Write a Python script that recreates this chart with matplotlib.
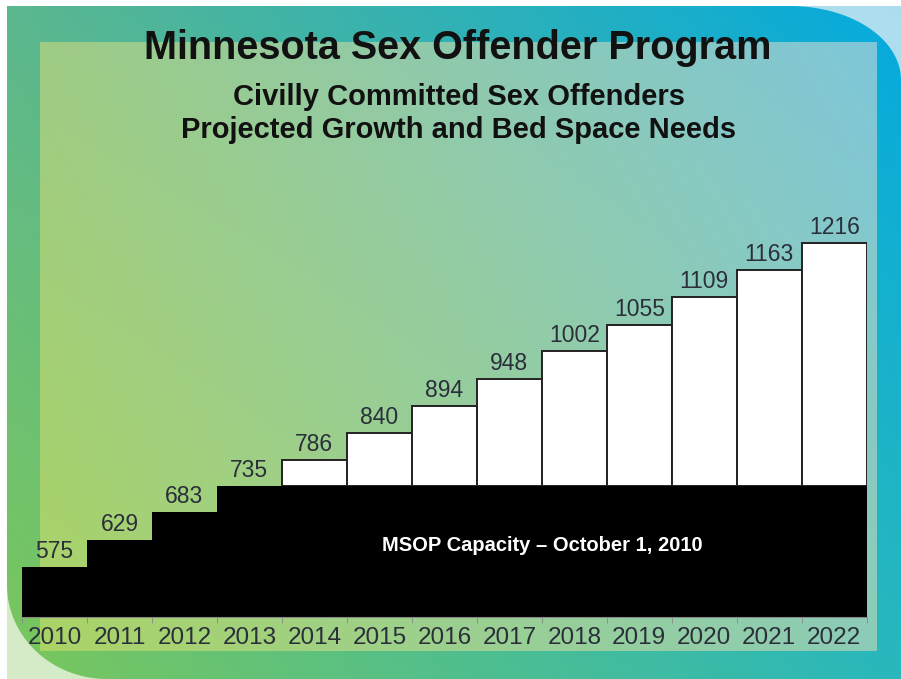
import matplotlib.pyplot as plt
import numpy as np
from matplotlib.patches import Polygon

plt.rcParams['font.family'] = ['Liberation Sans', 'DejaVu Sans']

years = ['2010', '2011', '2012', '2013', '2014', '2015', '2016',
         '2017', '2018', '2019', '2020', '2021', '2022']
beds = [575, 629, 683, 735, 786, 840, 894, 948, 1002, 1055, 1109, 1163, 1216]
capacity = 735
capacity_label = 'MSOP Capacity \u2013 October 1, 2010'

W, H = 901, 679


def gradient(tl, tr, bl, br, n=60):
    t = np.linspace(0, 1, n)[:, None, None]
    s = np.linspace(0, 1, n)[None, :, None]
    tl, tr, bl, br = [np.array(c)[None, None, :] for c in (tl, tr, bl, br)]
    top = tl * (1 - s) + tr * s
    bot = bl * (1 - s) + br * s
    return np.clip(top * (1 - t) + bot * t, 0, 1)


fig = plt.figure(figsize=(W / 100, H / 100), dpi=100, facecolor='white')

# slide background
bg = fig.add_axes([0, 0, 1, 1])
bg.axis('off')
bg.imshow(gradient((0.36, 0.72, 0.56), (0.02, 0.67, 0.87),
                   (0.48, 0.78, 0.36), (0.16, 0.72, 0.74)),
          extent=(7, W, H, 6), aspect='auto', interpolation='bilinear', zorder=0)
# light swoosh in the top right corner
tt = np.linspace(0, 1, 40)
swoosh_tr = np.column_stack([790 + 111 * np.sin(tt * np.pi / 2),
                             6 + 74 * (1 - np.cos(tt * np.pi / 2))])
bg.add_patch(Polygon(np.vstack([swoosh_tr, [[W, 6]]]), closed=True,
                     facecolor=(0.80, 0.90, 0.95), alpha=0.85, lw=0, zorder=1))
# inner panel
bg.imshow(gradient((0.62, 0.80, 0.52), (0.50, 0.78, 0.85),
                   (0.67, 0.83, 0.40), (0.55, 0.80, 0.72)),
          extent=(40, 877, 651, 42), aspect='auto', interpolation='bilinear', zorder=2)
# light swoosh in the bottom left corner
swoosh_bl = np.column_stack([7 + 100 * (1 - np.cos(tt * np.pi / 2)),
                             585 + 94 * np.sin(tt * np.pi / 2)])
bg.add_patch(Polygon(np.vstack([swoosh_bl, [[7, H]]]), closed=True,
                     facecolor=(0.90, 0.95, 0.86), alpha=0.85, lw=0, zorder=3))
bg.set_xlim(0, W)
bg.set_ylim(H, 0)

fig.text(458 / W, 1 - 48 / H, 'Minnesota Sex Offender Program', ha='center', va='center',
         fontsize=28.5, fontweight='bold', color='#111111')
fig.text(459 / W, 1 - 97 / H, 'Civilly Committed Sex Offenders', ha='center', va='center',
         fontsize=21, fontweight='bold', color='#111111')
fig.text(459 / W, 1 - 130 / H, 'Projected Growth and Bed Space Needs', ha='center', va='center',
         fontsize=21, fontweight='bold', color='#111111')

# chart
ax = fig.add_axes([22 / W, 1 - 617 / H, 844.7 / W, 417 / H])
ax.patch.set_alpha(0)
x = np.arange(len(years))
below = [min(v, capacity) for v in beds]
over = [(xi, v - capacity) for xi, v in zip(x, beds) if v > capacity]
ax.bar(x, below, width=1.0, color='black', zorder=2)
ax.bar([o[0] for o in over], [o[1] for o in over], width=1.0, bottom=capacity,
       color='white', edgecolor='#222222', linewidth=1.4, zorder=1)
for xi, v in zip(x, beds):
    ax.annotate(str(v), (xi, v), xytext=(0, 3), textcoords='offset points',
                ha='center', va='bottom', fontsize=16.5, color='#2a2f3a')
ax.text(7.5, 618, capacity_label, ha='center', va='center', fontsize=14.5,
        fontweight='bold', color='white', zorder=3)

ax.set_xlim(-0.5, 12.5)
ax.set_ylim(476, 1302)
ax.set_xticks(x)
ax.set_xticklabels(years, fontsize=17.5, color='#2a2f3a')
ax.set_xticks(np.arange(-0.5, 13), minor=True)
ax.tick_params(axis='x', which='major', length=0, pad=7)
ax.tick_params(axis='x', which='minor', length=4, color='#888888')
ax.set_yticks([])
for side in ['left', 'right', 'top']:
    ax.spines[side].set_visible(False)
ax.spines['bottom'].set_color('#888888')

fig.savefig('out.png', dpi=100, facecolor='white')
